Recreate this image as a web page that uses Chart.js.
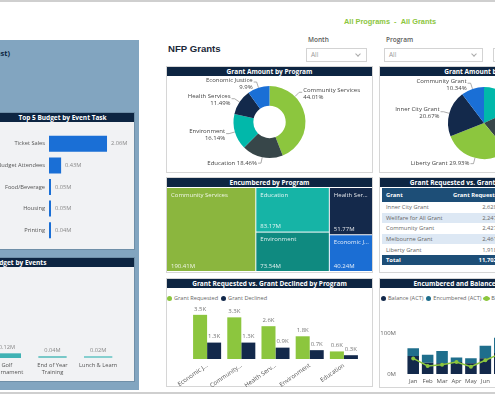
<!DOCTYPE html>
<html>
<head>
<meta charset="utf-8">
<script src="https://cdn.jsdelivr.net/npm/chart.js@4.4.1/dist/chart.umd.min.js"></script>
<style>
  html, body { margin: 0; padding: 0; }
  body {
    width: 495px; height: 400px; overflow: hidden; position: relative; background: #fff;
    font-family: "Open Sans", "Noto Sans", sans-serif; color: #555;
  }
  .abs { position: absolute; white-space: nowrap; }
  .panel { position: absolute; background: #fff; border: 1px solid #d6d6d6; box-sizing: border-box; }
  .hdr {
    position: absolute; left: 0; right: 0; top: 0; height: 9px; background: #0d2542; color: #fff;
    font-weight: 700; font-size: 6.5px; line-height: 9px; text-align: center; white-space: nowrap; overflow: hidden;
  }
  .lbl { position: absolute; font-size: 6.5px; font-weight: 600; color: #5a5a5a; }
  .dd { position: absolute; height: 14px; border: 1px solid #d3d3d3; box-sizing: border-box; font-size: 6.5px; color: #999; line-height: 12px; padding-left: 4px; }
  .dd i { position: absolute; right: 6px; top: 3px; width: 3px; height: 3px; border-right: 1px solid #aaa; border-bottom: 1px solid #aaa; transform: rotate(45deg); }
  .leg { position: absolute; font-size: 5.6px; color: #666; line-height: 8px; white-space: nowrap; }
  .leg b { display: inline-block; width: 5px; height: 5px; border-radius: 50%; vertical-align: -0.5px; margin-right: 2px; }
  canvas { position: absolute; }
  table { border-collapse: collapse; font-size: 5.8px; color: #666; }
  td, th { padding: 0 3px; height: 10.6px; white-space: nowrap; }
  th { background: #1d4e77; color: #fff; font-weight: 700; text-align: left; height: 14px; }
  tr.alt td { background: #dde8f4; }
  tr.tot td { background: #1d4e77; color: #fff; font-weight: 700; height: 10px; }
</style>
</head>
<body>
<!-- frame lines -->
<div class="abs" style="left:0;top:0;width:495px;height:2px;background:#cfcfcf"></div>
<div class="abs" style="left:0;top:392px;width:495px;height:2px;background:#cfcfcf"></div>

<!-- left blue column (cut off on the left) -->
<div class="abs" style="left:-10px;top:40px;width:149px;height:350px;background:#82a5c0"></div>
<div class="abs" style="right:485px;top:48px;font-size:7.5px;font-weight:700;color:#0d2542">Event Budget (Forecast)</div>
<div class="panel" style="left:-10px;top:112px;width:145px;height:138px;background:#f1f2f4;border-color:#6f8fa8">
  <div class="hdr">Top 5 Budget by Event Task</div>
</div>
<div class="panel" style="left:-117px;top:257px;width:252px;height:125px;background:#f1f2f4;border-color:#6f8fa8">
  <div class="hdr">Top 5 Budget by Events</div>
</div>

<!-- title and slicers -->
<div class="abs" style="left:168px;top:43px;font-family:'Liberation Sans',Arial,sans-serif;font-weight:700;font-size:9.6px;color:#1b2838">NFP Grants</div>
<div class="abs" style="left:344px;top:17px;font-family:'Liberation Sans',Arial,sans-serif;font-weight:700;font-size:7.4px;color:#8cc63e">All Programs&nbsp; - &nbsp;All Grants</div>
<div class="lbl" style="left:308px;top:35px">Month</div>
<div class="dd" style="left:306px;top:48px;width:61px">All<i></i></div>
<div class="lbl" style="left:386px;top:35px">Program</div>
<div class="dd" style="left:384px;top:48px;width:99px">All<i></i></div>
<div class="dd" style="left:493px;top:48px;width:60px"></div>

<!-- chart panels -->
<div class="panel" style="left:166px;top:66px;width:207px;height:107px"><div class="hdr">Grant Amount by Program</div></div>
<div class="panel" style="left:379px;top:66px;width:207px;height:107px"><div class="hdr">Grant Amount by Grant</div></div>
<div class="panel" style="left:166px;top:177px;width:207px;height:96px"><div class="hdr">Encumbered by Program</div></div>
<div class="panel" style="left:379px;top:177px;width:207px;height:96px"><div class="hdr">Grant Requested vs. Grant Declined by Grant</div>
  <table id="tbl" style="position:absolute;left:2px;top:10px"></table>
</div>
<div class="panel" style="left:166px;top:278px;width:207px;height:109px"><div class="hdr">Grant Requested vs. Grant Declined by Program</div></div>
<div class="panel" style="left:379px;top:278px;width:207px;height:110px"><div class="hdr">Encumbered and Balance Actual vs Budget</div></div>

<div class="leg" style="left:167px;top:294px"><b style="background:#8cc63e"></b>Grant Requested&nbsp;&nbsp;<b style="background:#13294b"></b>Grant Declined</div>
<div class="leg" style="left:381px;top:294px"><b style="background:#13294b"></b>Balance (ACT)&nbsp;&nbsp;<b style="background:#1f6e8c"></b>Encumbered (ACT)&nbsp;&nbsp;<b style="background:#8cc63e;box-shadow:-2px 0 0 -1px #8cc63e,2px 0 0 -1px #8cc63e"></b>Balance (BUD)</div>

<script>
// ---- data ----
const taskNames = ['Ticket Sales', 'Budget Attendees', 'Food/Beverage', 'Housing', 'Printing'];
const taskBudget = [2.06, 0.43, 0.05, 0.05, 0.04];

const eventNames = [['Golf', 'Tournament'], ['End of Year', 'Training'], 'Lunch & Learn'];
const eventBudget = [0.12, 0.04, 0.02];

const programs = ['Community Services', 'Education', 'Environment', 'Health Services', 'Economic Justice'];
const programShare = [44.01, 18.46, 16.14, 11.49, 9.9];

const grants = ['Melbourne Grant', 'Wellfare for All Grant', 'Liberty Grant', 'Inner City Grant', 'Community Grant'];
const grantShare = [18.2, 20.86, 29.93, 20.67, 10.34];

const encumbered = [190.41, 83.17, 73.54, 51.77, 40.24];

const tableGrants = ['Inner City Grant', 'Wellfare for All Grant', 'Community Grant', 'Melbourne Grant', 'Liberty Grant'];
const tableRequested = ['2,628.5', '2,247.2', '2,427.0', '2,461.5', '1,918.2'];
const tableTotal = '11,702.5';

const rvdPrograms = ['Economic Justice', 'Community Services', 'Health Services', 'Environment', 'Education'];
const requested = [3.5, 3.3, 2.6, 1.8, 0.6];
const declined = [1.3, 1.3, 0.9, 0.7, 0.3];

const months = ['Jan', 'Feb', 'Mar', 'Apr', 'May', 'Jun', 'Jul'];
const balanceAct = [45, 28, 27, 30, 27, 39, 52];
const encumberedAct = [19, 20, 30, 11, 12, 31, 38];
const balanceBud = [38.6, 20, 23, 30, 18, 34, 50];

// ---- styling ----
const FONT = '"Open Sans", "Noto Sans", sans-serif';
const GREEN = '#8cc63e', NAVY = '#13294b', TEAL = '#01b8aa', SLATE = '#374649', BLUE = '#1a6fd6', STEEL = '#1f6e8c';

Chart.defaults.font.family = FONT;
Chart.defaults.font.size = 6;
Chart.defaults.color = '#555';
Chart.defaults.animation = false;
Chart.defaults.responsive = false;
Chart.defaults.plugins.legend.display = false;
Chart.defaults.plugins.tooltip.enabled = false;

function mk(left, top, w, h) {
    const c = document.createElement('canvas');
    c.width = w; c.height = h;
    c.style.left = left + 'px'; c.style.top = top + 'px';
    c.style.width = w + 'px'; c.style.height = h + 'px';
    document.body.appendChild(c);
    return c;
}

const measureCtx = document.createElement('canvas').getContext('2d');
function shorten(text, maxW, font) {
    measureCtx.font = font;
    if (measureCtx.measureText(text).width <= maxW) return text;
    let t = text;
    while (t.length > 1 && measureCtx.measureText(t + '...').width > maxW) t = t.slice(0, -1);
    return t + '...';
}

// value labels at the end of each bar
const barValues = {
    id: 'barValues',
    afterDatasetsDraw(chart, args, o) {
        const ctx = chart.ctx;
        ctx.save();
        ctx.font = `${o.size || 6}px ${FONT}`;
        ctx.fillStyle = o.color || '#666';
        chart.data.datasets.forEach((ds, di) => {
            const meta = chart.getDatasetMeta(di);
            meta.data.forEach((bar, i) => {
                if (ds.data[i] == null) return;
                const txt = o.format(ds.data[i]);
                if (chart.options.indexAxis === 'y') {
                    ctx.textAlign = 'left'; ctx.textBaseline = 'middle';
                    ctx.fillText(txt, bar.x + 4, bar.y);
                } else {
                    ctx.textAlign = 'center'; ctx.textBaseline = 'bottom';
                    ctx.fillText(txt, bar.x, bar.y - 3);
                }
            });
        });
        ctx.restore();
    }
};

// outside labels with leader lines for pie / doughnut
const sliceLabels = {
    id: 'sliceLabels',
    afterDatasetsDraw(chart, args, o) {
        const ctx = chart.ctx;
        const meta = chart.getDatasetMeta(0);
        const data = chart.data.datasets[0].data;
        ctx.save();
        ctx.font = `6px ${FONT}`;
        ctx.fillStyle = '#444';
        ctx.strokeStyle = '#8a8a8a';
        ctx.lineWidth = 0.7;
        meta.data.forEach((arc, i) => {
            const p = arc.getProps(['x', 'y', 'startAngle', 'endAngle', 'outerRadius']);
            let a = (p.startAngle + p.endAngle) / 2;
            if (o.anchor && o.anchor[i] != null) a = -Math.PI / 2 + o.anchor[i] * Math.PI * 2;
            const dx = Math.cos(a), dy = Math.sin(a);
            const ax = p.x + dx * p.outerRadius, ay = p.y + dy * p.outerRadius;
            const ex = p.x + dx * (p.outerRadius + 6), ey = p.y + dy * (p.outerRadius + 6);
            const right = dx >= 0;
            const tx = ex + (right ? 4 : -4);
            ctx.beginPath();
            ctx.moveTo(ax, ay); ctx.lineTo(ex, ey); ctx.lineTo(tx + (right ? -1 : 1), ey);
            ctx.stroke();
            ctx.textAlign = right ? 'left' : 'right';
            ctx.textBaseline = 'middle';
            const name = chart.data.labels[i], pct = data[i] + '%';
            if (dy > 0.9) {
                ctx.fillText(name + ' ' + pct, tx, ey);
            } else {
                ctx.fillText(name, tx, ey - 2);
                ctx.fillText(pct, tx, ey + 5);
            }
        });
        ctx.restore();
    }
};

// slice-and-dice treemap drawn through the chart's linear scales
const treemap = {
    id: 'treemap',
    afterDatasetsDraw(chart, args, o) {
        const { ctx, scales: { x, y } } = chart;
        ctx.save();
        let x0 = 0;
        o.groups.forEach(g => {
            const gsum = g.reduce((s, i) => s + o.values[i], 0);
            let y0 = 0;
            g.forEach(i => {
                const h = o.values[i] / gsum;
                const l = x.getPixelForValue(x0), r = x.getPixelForValue(x0 + gsum);
                const t = y.getPixelForValue(y0), b = y.getPixelForValue(y0 + h);
                ctx.fillStyle = o.colors[i];
                ctx.fillRect(l, t, r - l - 1, b - t - 1);
                const f = `6px ${FONT}`;
                ctx.font = f;
                ctx.fillStyle = 'rgba(255,255,255,0.88)';
                ctx.textAlign = 'left';
                ctx.textBaseline = 'middle';
                ctx.fillText(shorten(o.labels[i], r - l - 8, f), l + 4, t + 7);
                ctx.fillText(o.values[i].toFixed(2) + 'M', l + 4, b - 6);
                y0 += h;
            });
            x0 += gsum;
        });
        ctx.restore();
    }
};

// ---- Top 5 Budget by Event Task ----
new Chart(mk(-16, 122, 151, 127), {
    type: 'bar',
    data: {
        labels: taskNames,
        datasets: [{ data: taskBudget, backgroundColor: BLUE, barPercentage: 0.74, categoryPercentage: 1, minBarLength: 2 }]
    },
    options: {
        indexAxis: 'y',
        layout: { padding: { top: 11, bottom: 8, right: 1.5 } },
        scales: {
            x: { display: false, min: 0, max: 3 },
            y: {
                grid: { display: false, drawTicks: false }, border: { display: false },
                ticks: { padding: 4, color: '#555', font: { size: 5.7 } },
                afterFit(s) { s.width = 65; }
            }
        },
        plugins: { barValues: { format: v => v.toFixed(2) + 'M', color: '#888', size: 5.7 } }
    },
    plugins: [barValues]
});

// ---- Top 5 Budget by Events (visible part) ----
new Chart(mk(-16, 268, 151, 112), {
    type: 'bar',
    data: {
        labels: eventNames,
        datasets: [{
            data: eventBudget, backgroundColor: ['#40b2b4', '#78c8c8', '#86cfcf'],
            barPercentage: 0.62, categoryPercentage: 1, minBarLength: 2
        }]
    },
    options: {
        layout: { padding: { top: 12, right: 14 } },
        scales: {
            x: {
                grid: { display: false, drawTicks: false }, border: { display: false },
                ticks: { padding: 4, maxRotation: 0, autoSkip: false, color: '#555', font: { size: 5.7 } },
                afterFit(s) { s.height = 22; }
            },
            y: { display: false, min: 0, max: 2 }
        },
        plugins: { barValues: { format: v => v.toFixed(2) + 'M', color: '#888', size: 5.7 } }
    },
    plugins: [barValues]
});

// ---- Grant Amount by Program (doughnut) ----
new Chart(mk(167, 74, 205, 96), {
    type: 'doughnut',
    data: {
        labels: programs,
        datasets: [{ data: programShare, backgroundColor: [GREEN, SLATE, TEAL, NAVY, BLUE], borderWidth: 0 }]
    },
    options: {
        cutout: '45%',
        layout: { padding: { top: 12, bottom: 12 } },
        plugins: { sliceLabels: { anchor: { 0: 0.125 } } }
    },
    plugins: [sliceLabels]
});

// ---- Grant Amount by Grant (pie) ----
new Chart(mk(380, 75, 208, 96), {
    type: 'pie',
    data: {
        labels: grants,
        datasets: [{ data: grantShare, backgroundColor: [TEAL, SLATE, GREEN, NAVY, BLUE], borderWidth: 0 }]
    },
    options: {
        layout: { padding: { top: 12, bottom: 12 } },
        plugins: { sliceLabels: {} }
    },
    plugins: [sliceLabels]
});

// ---- Encumbered by Program (treemap) ----
new Chart(mk(167, 188, 206, 84), {
    type: 'scatter',
    data: { datasets: [{ data: [] }] },
    options: {
        scales: {
            x: { display: false, min: 0, max: encumbered.reduce((s, v) => s + v, 0) },
            y: { display: false, min: 0, max: 1, reverse: true }
        },
        plugins: {
            treemap: {
                labels: programs, values: encumbered,
                colors: ['#8bb63e', '#16b4a6', '#0f8a80', '#14294b', '#1b6ed4'],
                groups: [[0], [1, 2], [3, 4]]
            }
        }
    },
    plugins: [treemap]
});

// ---- table ----
(function () {
    const tbl = document.getElementById('tbl');
    let html = '<tr><th style="width:61px;padding-left:4px">Grant</th><th style="width:44px">Grant Requested</th><th>Grant Declined</th></tr>';
    tableGrants.forEach((g, i) => {
        html += `<tr class="${i % 2 ? 'alt' : ''}"><td style="padding-left:4px">${g}</td><td style="text-align:right">${tableRequested[i]}</td><td></td></tr>`;
    });
    html += `<tr class="tot"><td style="padding-left:4px">Total</td><td style="text-align:right">${tableTotal}</td><td></td></tr>`;
    tbl.innerHTML = html;
})();

// ---- Grant Requested vs. Grant Declined by Program ----
const tickFont = `6px ${FONT}`;
new Chart(mk(166, 300, 207, 87), {
    type: 'bar',
    data: {
        labels: rvdPrograms,
        datasets: [
            { label: 'Grant Requested', data: requested, backgroundColor: GREEN, barPercentage: 1, categoryPercentage: 0.82 },
            { label: 'Grant Declined', data: declined, backgroundColor: NAVY, barPercentage: 1, categoryPercentage: 0.82 }
        ]
    },
    options: {
        layout: { padding: { top: 6, left: 24, right: 12 } },
        scales: {
            x: {
                grid: { display: false, drawTicks: false }, border: { display: false },
                ticks: {
                    minRotation: 35, maxRotation: 35, padding: 3, autoSkip: false, color: '#555',
                    callback(v) { return shorten(this.getLabelForValue(v), 38, tickFont); }
                },
                afterFit(s) { s.height = 28; }
            },
            y: { display: false, min: 0, max: 4.2 }
        },
        plugins: { barValues: { format: v => v.toFixed(1) + 'K', color: '#777' } }
    },
    plugins: [barValues]
});

// ---- Encumbered and Balance ----
new Chart(mk(380, 300, 131, 88), {
    data: {
        labels: months,
        datasets: [
            {
                type: 'line', label: 'Balance (BUD)', data: balanceBud, stack: 'bud', order: 0,
                borderColor: GREEN, backgroundColor: GREEN, borderWidth: 1.5, pointRadius: 2, pointBorderWidth: 0
            },
            { type: 'bar', label: 'Balance (ACT)', data: balanceAct, stack: 'act', order: 1, backgroundColor: NAVY, barPercentage: 0.8, categoryPercentage: 1 },
            { type: 'bar', label: 'Encumbered (ACT)', data: encumberedAct, stack: 'act', order: 1, backgroundColor: STEEL, barPercentage: 0.8, categoryPercentage: 1 }
        ]
    },
    options: {
        layout: { padding: { top: 8, right: 2 } },
        scales: {
            x: {
                stacked: true, grid: { display: false, drawTicks: false }, border: { display: false },
                ticks: { padding: 4, color: '#555', maxRotation: 0, minRotation: 0, autoSkip: false },
                afterFit(s) { s.height = 14; }
            },
            y: {
                stacked: true, min: 0, max: 150,
                grid: { display: false, drawTicks: false }, border: { display: false },
                afterBuildTicks(s) { s.ticks = [{ value: 0 }, { value: 100 }]; },
                ticks: { padding: 10, color: '#666', callback: v => v + 'M' },
                afterFit(s) { s.width = 26; }
            }
        }
    }
});
</script>
</body>
</html>
